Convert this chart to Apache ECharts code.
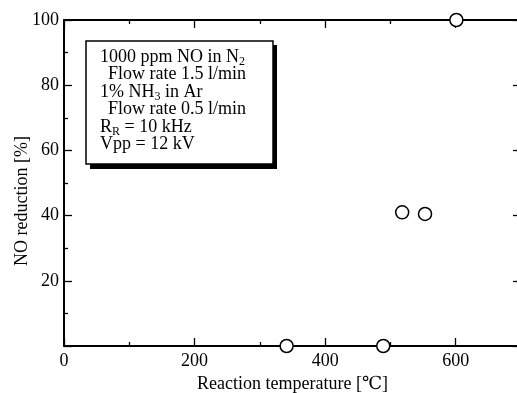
<!DOCTYPE html>
<html>
<head>
<meta charset="utf-8">
<script src="https://cdn.jsdelivr.net/npm/echarts@6/dist/echarts.min.js"></script>
<style>
  html, body { margin: 0; padding: 0; background: #fff; }
  #chart { width: 517px; height: 393px; }
</style>
</head>
<body>
<div id="chart"></div>
<script>
// measured points: reaction temperature [C] vs NO reduction [%]
var temperature = [341, 489, 518, 553, 601];
var noReduction = [0, 0, 41, 40.5, 100];

var xTicks = [0, 200, 400, 600];
var yTicks = [20, 40, 60, 80, 100];

var conditionLines = [
  { text: '1000 ppm NO in N{s|2}', indent: 0 },
  { text: 'Flow rate 1.5 l/min', indent: 8 },
  { text: '1% NH{s|3} in Ar', indent: 0 },
  { text: 'Flow rate 0.5 l/min', indent: 8 },
  { text: 'R{s|R} = 10 kHz', indent: 0 },
  { text: 'Vpp = 12 kV', indent: 0 }
];

var serif = '"Liberation Serif", "DejaVu Serif", serif';

var myChart = echarts.init(document.getElementById('chart'));

var points = temperature.map(function (t, i) { return [t, noReduction[i]]; });

var graphics = [
  { // shadow of condition box
    type: 'rect', z: 10,
    shape: { x: 90, y: 45, width: 187, height: 124 },
    style: { fill: '#000' }
  },
  {
    type: 'rect', z: 11,
    shape: { x: 86, y: 41, width: 187, height: 123 },
    style: { fill: '#fff', stroke: '#000', lineWidth: 1.5 }
  },
  {
    type: 'text', z: 12,
    x: 22, y: 201, rotation: Math.PI / 2,
    style: {
      text: 'NO reduction [%]', font: '18px ' + serif, fill: '#000',
      align: 'center', verticalAlign: 'middle'
    }
  }
];

conditionLines.forEach(function (line, i) {
  graphics.push({
    type: 'text', z: 12,
    x: 100 + line.indent, y: 57 + i * 17.5,
    style: {
      text: line.text, font: '18px ' + serif, fill: '#000',
      verticalAlign: 'middle',
      rich: { s: { fontSize: 12, fontFamily: serif, padding: [10, 0, 0, 0] } }
    }
  });
});

function axisParts(showLabel, extraLabel) {
  var lineStyle = { color: '#000', width: 1.3 };
  var parts = {
    axisLine: { show: true, onZero: false, lineStyle: { color: '#000', width: 2 } },
    axisTick: { show: true, inside: true, length: 8, lineStyle: lineStyle },
    minorTick: { show: true, splitNumber: 2, length: 4, lineStyle: lineStyle },
    splitLine: { show: false },
    minorSplitLine: { show: false },
    axisLabel: { show: false }
  };
  if (showLabel) parts.axisLabel = extraLabel;
  return parts;
}

var xBottom = Object.assign({
  type: 'value', position: 'bottom', min: 0, max: 700, interval: 200,
  name: 'Reaction temperature [℃]', nameLocation: 'middle', nameGap: 21,
  nameTextStyle: { fontFamily: serif, fontSize: 18, color: '#000' }
}, axisParts(true, {
  margin: 6, fontFamily: serif, fontSize: 18, color: '#000', showMaxLabel: false,
  formatter: function (v) { return xTicks.indexOf(v) >= 0 ? String(v) : ''; }
}));

var xTop = Object.assign({
  type: 'value', position: 'top', min: 0, max: 700, interval: 200
}, axisParts(false));

var yLeft = Object.assign({
  type: 'value', position: 'left', min: 0, max: 100, interval: 20
}, axisParts(true, {
  margin: 5, fontFamily: serif, fontSize: 18, color: '#000',
  formatter: function (v) { return yTicks.indexOf(v) >= 0 ? String(v) : ''; }
}));

var yRight = Object.assign({
  type: 'value', position: 'right', min: 0, max: 100, interval: 20
}, axisParts(false));

var option = {
  animation: false,
  backgroundColor: '#fff',
  grid: {
    left: 64, top: 20, right: -4, bottom: 47,
    containLabel: false, outerBoundsMode: 'none'
  },
  xAxis: [xBottom, xTop],
  yAxis: [yLeft, yRight],
  series: [
    {
      type: 'scatter',
      data: points,
      symbol: 'circle',
      symbolSize: 13,
      z: 20,
      itemStyle: { color: '#fff', borderColor: '#000', borderWidth: 1.5, opacity: 1 }
    }
  ],
  graphic: graphics
};

myChart.setOption(option);
</script>
</body>
</html>
